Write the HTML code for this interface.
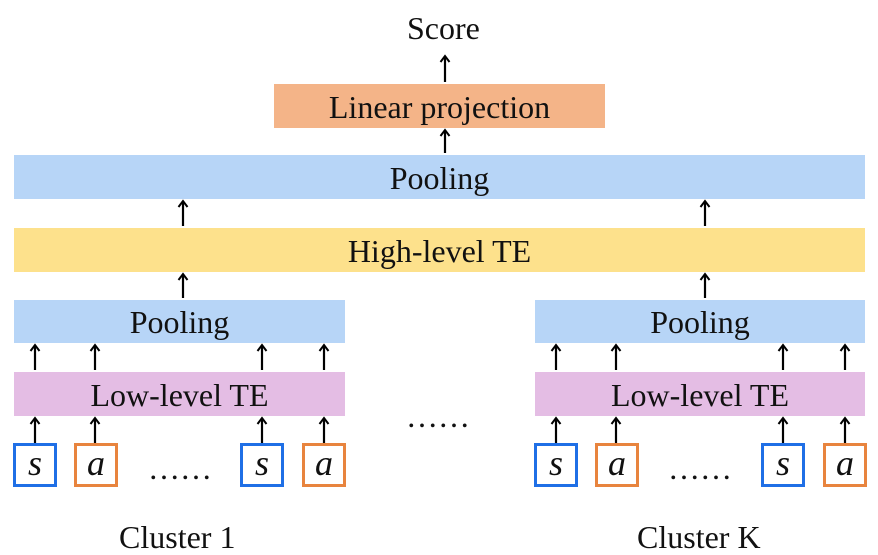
<!DOCTYPE html>
<html><head><style>
body{margin:0;width:878px;height:555px;background:#fff;position:relative;overflow:hidden;font-family:"Liberation Serif",serif;color:#111}
.b{position:absolute;display:flex;align-items:center;justify-content:center;font-size:32px;padding-top:2px;box-sizing:border-box}
.blue{background:#b7d5f7}.pink{background:#e4bde4}.yel{background:#fde18c}.org{background:#f4b488}
.sq{position:absolute;width:44px;height:44px;background:#fff;font-style:italic;font-size:36px;display:flex;align-items:center;justify-content:center;box-sizing:border-box;padding-bottom:4px}
.s{border:3px solid #1f6fe6}.a{border:3px solid #e8843e}
.t{position:absolute;font-size:32px;line-height:36px}
</style></head><body>
<div class="t" style="left:407px;top:10px">Score</div>
<div class="b org" style="left:274px;top:84px;width:331px;height:44px">Linear projection</div>
<div class="b blue" style="left:14px;top:155px;width:851px;height:44px">Pooling</div>
<div class="b yel" style="left:14px;top:228px;width:851px;height:44px">High-level TE</div>
<div class="b blue" style="left:14px;top:300px;width:331px;height:43px">Pooling</div>
<div class="b pink" style="left:14px;top:372px;width:331px;height:44px">Low-level TE</div>
<div class="b blue" style="left:535px;top:300px;width:330px;height:43px">Pooling</div>
<div class="b pink" style="left:535px;top:372px;width:330px;height:44px">Low-level TE</div>
<div class="sq s" style="left:13px;top:443px">s</div>
<div class="sq a" style="left:74px;top:443px">a</div>
<div class="sq s" style="left:240px;top:443px">s</div>
<div class="sq a" style="left:302px;top:443px">a</div>
<div class="sq s" style="left:534px;top:443px">s</div>
<div class="sq a" style="left:595px;top:443px">a</div>
<div class="sq s" style="left:761px;top:443px">s</div>
<div class="sq a" style="left:823px;top:443px">a</div>
<div class="t" style="left:148px;top:450px">……</div>
<div class="t" style="left:668px;top:450px">……</div>
<div class="t" style="left:406px;top:398px">……</div>
<div class="t" style="left:119px;top:519px">Cluster 1</div>
<div class="t" style="left:637px;top:519px">Cluster K</div>
<svg width="878" height="555" style="position:absolute;left:0;top:0">
<defs><marker id="m" markerWidth="12" markerHeight="12" refX="9" refY="6" orient="auto" markerUnits="userSpaceOnUse"><path d="M3,1.5 L9,6 L3,10.5" fill="none" stroke="#000" stroke-width="2"/></marker></defs>
<g stroke="#000" stroke-width="2.2" marker-end="url(#m)">
<line x1="445" y1="82" x2="445" y2="56"/>
<line x1="445" y1="153" x2="445" y2="130"/>
<line x1="183" y1="226" x2="183" y2="201"/>
<line x1="705" y1="226" x2="705" y2="201"/>
<line x1="183" y1="298" x2="183" y2="274"/>
<line x1="705" y1="298" x2="705" y2="274"/>
<line x1="35" y1="370" x2="35" y2="345"/><line x1="95" y1="370" x2="95" y2="345"/>
<line x1="262" y1="370" x2="262" y2="345"/><line x1="324" y1="370" x2="324" y2="345"/>
<line x1="556" y1="370" x2="556" y2="345"/><line x1="616" y1="370" x2="616" y2="345"/>
<line x1="783" y1="370" x2="783" y2="345"/><line x1="845" y1="370" x2="845" y2="345"/>
<line x1="35" y1="443" x2="35" y2="418"/><line x1="95" y1="443" x2="95" y2="418"/>
<line x1="262" y1="443" x2="262" y2="418"/><line x1="324" y1="443" x2="324" y2="418"/>
<line x1="556" y1="443" x2="556" y2="418"/><line x1="616" y1="443" x2="616" y2="418"/>
<line x1="783" y1="443" x2="783" y2="418"/><line x1="845" y1="443" x2="845" y2="418"/>
</g></svg>
</body></html>
